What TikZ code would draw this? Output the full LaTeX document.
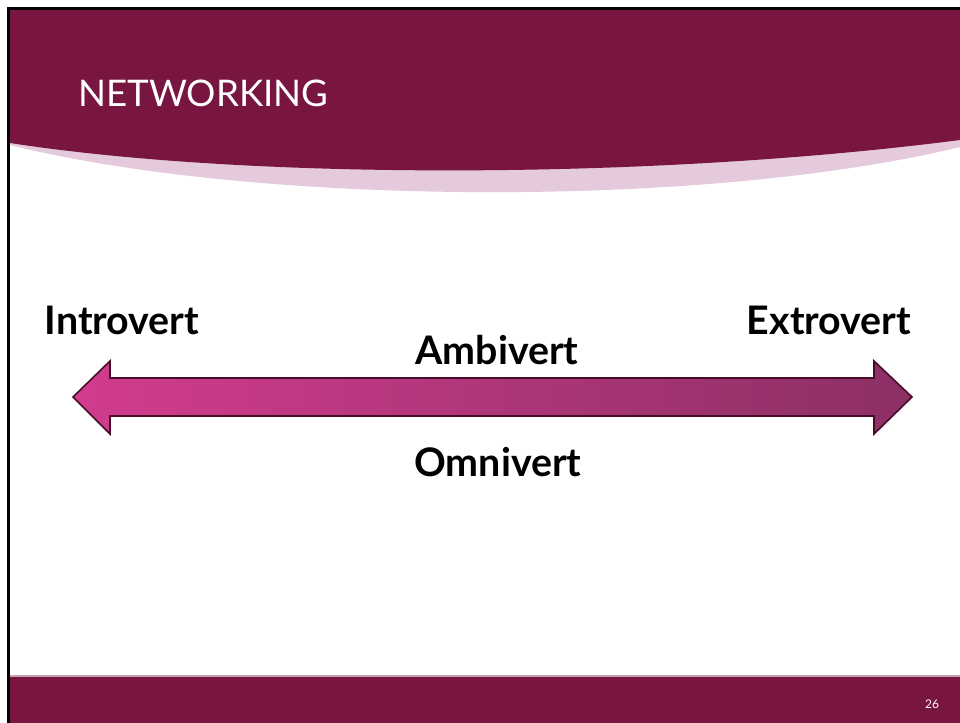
\documentclass[tikz,border=0pt]{standalone}
\usepackage{fontspec}
\setmainfont{Lato}
\usepackage{tikz}

\begin{document}
\begin{tikzpicture}[x=0.75pt,y=-0.75pt,
  wordlabel/.style={font=\bfseries\fontsize{29.5}{32}\selectfont, inner sep=0pt, anchor=base}]
% 颜色列表
\definecolor{mymaroon}{RGB}{120,21,65}
\definecolor{mypink}{RGB}{229,201,220}
\definecolor{myleft}{RGB}{210,60,142}
\definecolor{myright}{RGB}{140,48,100}
\definecolor{myedge}{RGB}{72,12,42}
\definecolor{myline}{RGB}{200,160,180}
\useasboundingbox (0,0) rectangle (960,723);
\fill[white] (0,0) rectangle (960,723);

% 顶部弧形标题栏
\fill[mypink] (10,10) -- (10,145) .. controls (250,205) and (700,210) .. (960,147) -- (960,10) -- cycle;
\fill[mymaroon] (10,10) -- (10,143) .. controls (250,180) and (650,180) .. (960,140) -- (960,10) -- cycle;
\node[anchor=base west, text=white, font=\fontsize{27.5}{32}\selectfont, inner sep=0pt] (title) at (78,107) {NETWORKING};

% 底部栏
\fill[mymaroon] (10,676) rectangle (960,723);
\draw[myline, line width=0.8pt] (10,676) -- (960,676);
\node[text=white, font=\fontsize{9}{10}\selectfont, inner sep=0pt] (pagenum) at (932,704) {26};

% 黑色边框
\draw[black, line width=2.25pt] (8.5,723) -- (8.5,8.5) -- (960,8.5);

% 双向箭头
\shade[left color=myleft, right color=myright, draw=myedge, line width=1.2pt, line join=miter]
  (73,397) -- (110,361) -- (110,378) -- (874,378) -- (874,361) -- (912,397)
  -- (874,434) -- (874,416) -- (110,416) -- (110,434) -- cycle;

% 文字
\node[wordlabel] (introvert) at (122,335) {Introvert};
\node[wordlabel] (extrovert) at (829,335) {Extrovert};
\node[wordlabel] (ambivert) at (497,365) {Ambivert};
\node[wordlabel] (omnivert) at (498,476) {Omnivert};
\end{tikzpicture}
\end{document}
